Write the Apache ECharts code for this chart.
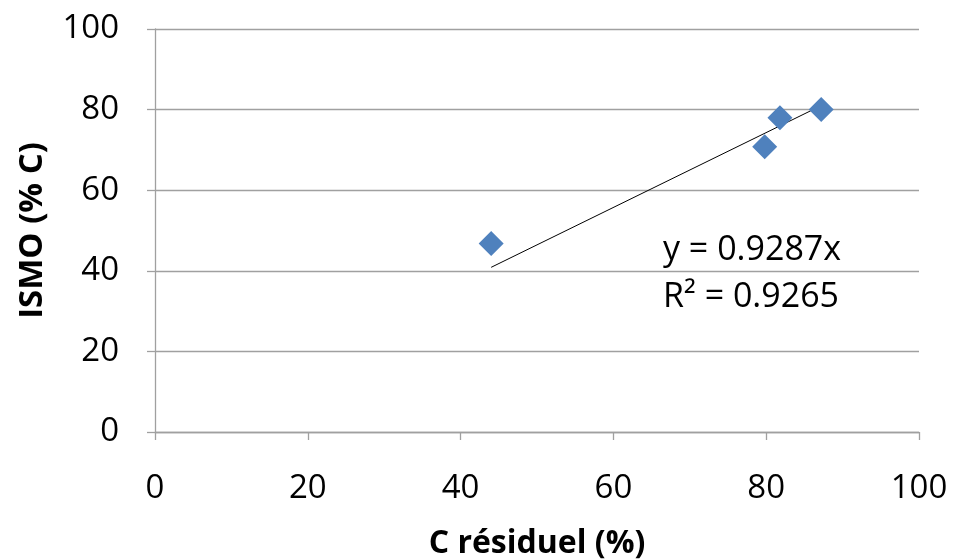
<!DOCTYPE html>
<html><head><meta charset="utf-8">
<script src="https://cdn.jsdelivr.net/npm/echarts@6/dist/echarts.min.js"></script>
<style>html,body{margin:0;padding:0;background:#fff}#c{width:955px;height:560px}</style>
</head><body><div id="c"></div>
<script>
var xValues = [44, 79.8, 81.8, 87.2];
var yValues = [46.8, 70.8, 78.0, 80.0];
var slope = 0.9287;
var r2 = 0.9265;
var xTicks = [0, 20, 40, 60, 80, 100];
var yTicks = [0, 20, 40, 60, 80, 100];

var pts = xValues.map(function (x, i) { return [x, yValues[i]]; });
var xmin = Math.min.apply(null, xValues), xmax = Math.max.apply(null, xValues);
var trend = [[xmin, slope * xmin], [xmax, slope * xmax]];
var font = '"Open Sans", sans-serif';
var chart = echarts.init(document.getElementById('c'));
chart.setOption({
  animation: false,
  grid: {left: 155, right: 36, top: 29, bottom: 128, containLabel: false, outerBoundsMode: 'none'},
  xAxis: {
    type: 'value', min: xTicks[0], max: xTicks[xTicks.length - 1], interval: xTicks[1] - xTicks[0],
    name: 'C résiduel (%)', nameLocation: 'middle', nameGap: 96,
    nameTextStyle: {fontFamily: font, fontWeight: 'bold', fontSize: 32, color: '#000'},
    axisLine: {lineStyle: {color: '#a0a0a0', width: 1.3}},
    axisTick: {show: true, length: 8, lineStyle: {color: '#a0a0a0', width: 1.3}},
    axisLabel: {fontFamily: font, fontSize: 33, color: '#000', margin: 40},
    splitLine: {show: false}
  },
  yAxis: {
    type: 'value', min: yTicks[0], max: yTicks[yTicks.length - 1], interval: yTicks[1] - yTicks[0],
    name: 'ISMO (% C)', nameLocation: 'middle', nameGap: 106, nameRotate: 90,
    nameTextStyle: {fontFamily: font, fontWeight: 'bold', fontSize: 33, color: '#000'},
    axisLine: {show: true, lineStyle: {color: '#a0a0a0', width: 1.3}},
    axisTick: {show: true, length: 8, lineStyle: {color: '#a0a0a0', width: 1.3}},
    axisLabel: {fontFamily: font, fontSize: 33, color: '#000', margin: 36},
    splitLine: {show: true, lineStyle: {color: '#a0a0a0', width: 1.3}}
  },
  series: [
    {type: 'line', data: trend, symbol: 'none', lineStyle: {color: '#000', width: 1}, z: 3},
    {type: 'scatter', data: pts, symbol: 'diamond', symbolSize: [25, 25], itemStyle: {color: '#4f81bd', opacity: 1}, z: 4}
  ],
  graphic: [
    {type: 'text', x: 663, y: 250, style: {text: 'y = ' + slope + 'x', font: '34px ' + font, fill: '#000', verticalAlign: 'middle'}},
    {type: 'text', x: 663, y: 297, style: {text: 'R² = ' + r2, font: '34px ' + font, fill: '#000', verticalAlign: 'middle'}}
  ]
});
</script></body></html>
